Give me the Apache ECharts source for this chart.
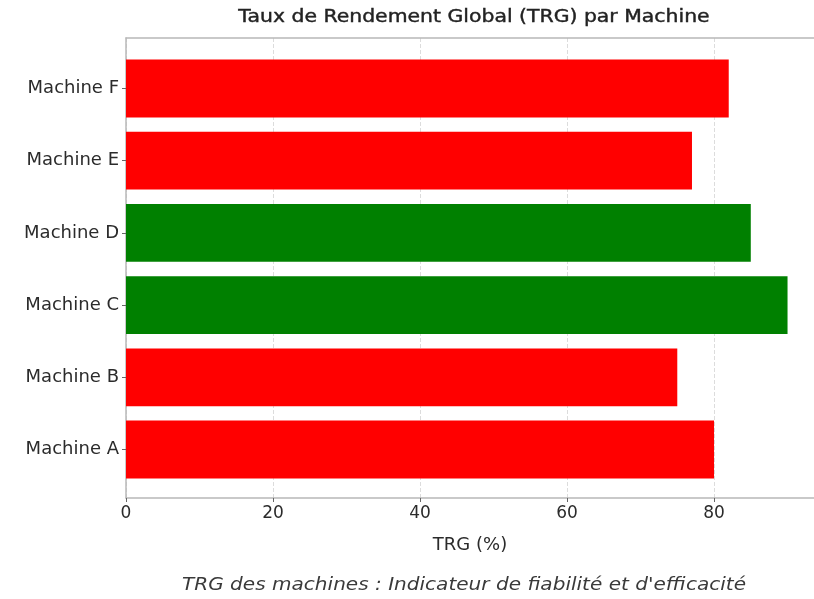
<!DOCTYPE html>
<html><head><meta charset="utf-8">
<script src="https://cdn.jsdelivr.net/npm/echarts@6/dist/echarts.min.js"></script>
<style>html,body{margin:0;padding:0;background:#fff}#c{width:814px;height:599px}</style>
</head><body><div id="c"></div>
<script>
const machines = ["Machine A","Machine B","Machine C","Machine D","Machine E","Machine F"];
const trg = [80, 75, 90, 85, 77, 82];
const barColors = ["#ff0000","#ff0000","#008000","#008000","#ff0000","#ff0000"];
const xTicks = [0, 20, 40, 60, 80];
const titleText = "Taux de Rendement Global (TRG) par Machine";
const xLabel = "TRG (%)";
const captionText = "TRG des machines : Indicateur de fiabilité et d'efficacité";

const FONT = "DejaVu Sans";
const TXT = "#2b2b2b";
const SPINE = '#b8b8b8';
const chart = echarts.init(document.getElementById('c'), null, {renderer:'canvas'});
const xMin = 0, xMax = 93.6;
chart.setOption({
  animation:false,
  textStyle:{fontFamily:FONT},
  grid:[
    {left:126,right:0,top:38,bottom:101},
    {left:126,right:0,top:52.4,bottom:113.4}
  ],
  xAxis:[
    {gridIndex:0,type:'value',min:xMin,max:xMax,interval:20,
     axisLine:{show:true,onZero:false,lineStyle:{color:SPINE,width:1.5}},
     axisTick:{show:true,length:4,lineStyle:{color:'#666'}},
     axisLabel:{showMaxLabel:false,fontFamily:FONT,fontSize:17,color:TXT,margin:7,
       formatter:v=>xTicks.includes(v)?String(v):''},
     splitLine:{show:true,lineStyle:{color:'#dcdcdc',type:'dashed',width:1}},
     name:xLabel,nameLocation:'middle',nameGap:38,nameTextStyle:{fontFamily:FONT,fontSize:18,color:TXT}},
    {gridIndex:0,type:'value',position:'top',min:xMin,max:xMax,
     axisLine:{show:true,onZero:false,lineStyle:{color:SPINE,width:1.5}},
     axisTick:{show:false},axisLabel:{show:false},splitLine:{show:false}},
    {gridIndex:1,type:'value',min:xMin,max:xMax,show:false}
  ],
  yAxis:[
    {gridIndex:0,type:'value',min:0,max:1,
     axisLine:{show:true,onZero:false,lineStyle:{color:SPINE,width:1.5}},
     axisTick:{show:false},axisLabel:{show:false},splitLine:{show:false}},
    {gridIndex:1,type:'category',data:machines,
     axisLine:{show:false},
     axisTick:{show:true,alignWithLabel:true,length:4,lineStyle:{color:'#666'}},
     axisLabel:{fontFamily:FONT,fontSize:18,color:TXT,margin:7},
     splitLine:{show:false}}
  ],
  series:[{
    type:'bar',xAxisIndex:2,yAxisIndex:1,barWidth:'80%',
    data:trg.map((v,i)=>({value:v,itemStyle:{color:barColors[i]}}))
  }],
  graphic:[
    {type:'text',x:474,y:18,scaleX:1.2,
     style:{text:titleText,x:0,y:0,textAlign:'center',textVerticalAlign:'middle',fontFamily:FONT,fontSize:17,fontWeight:500,fill:'#222',stroke:'#222',lineWidth:0.4}},
    {type:'text',x:464,y:586,scaleX:1.18,
     style:{text:captionText,x:0,y:0,textAlign:'center',textVerticalAlign:'middle',fontFamily:FONT,fontSize:17,fontStyle:'italic',fill:'#3a3a3a'}}
  ]
});
</script></body></html>
